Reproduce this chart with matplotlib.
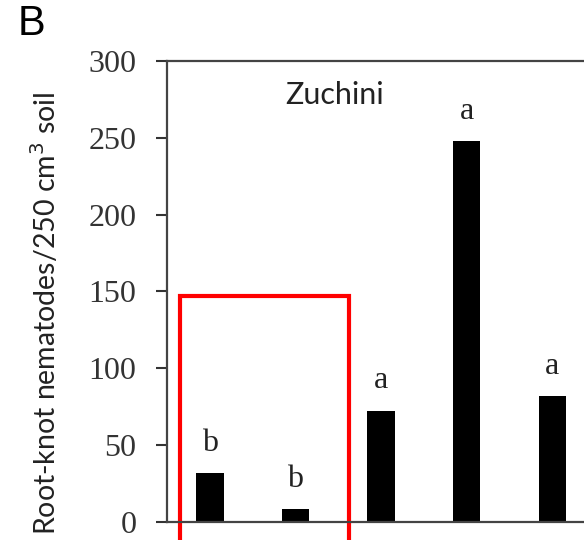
import numpy as np
import matplotlib.pyplot as plt
from matplotlib.patches import Rectangle

# valores (Zuchini)
treatments = ['T1', 'T2', 'T3', 'T4', 'T5']
nematodes = [32, 8.5, 72.5, 248, 82]
letters = ['b', 'b', 'a', 'a', 'a']
yticks = [0, 50, 100, 150, 200, 250, 300]

fig = plt.figure(figsize=(5.84, 5.40), dpi=100)
fig.patch.set_facecolor('#ffffff')
ax = fig.add_axes([0.286, 0.0333, 0.714, 0.854])

x = np.arange(len(treatments))
ax.bar(x, nematodes, width=0.32, color='black')

for xi, v, lt in zip(x, nematodes, letters):
    ax.annotate(lt, (xi, v), xytext=(0, 16), textcoords='offset points',
                ha='center', va='baseline', fontsize=23, family='Liberation Serif',
                color='#222222')

ax.set_xlim(-0.5, 4.37)
ax.set_ylim(0, 300)
ax.set_yticks(yticks)
ax.set_yticklabels([str(t) for t in yticks], family='Liberation Serif',
                   fontsize=23, color='#333333')
ax.set_xticks([])
ax.tick_params(axis='y', direction='out', length=8, width=1.5, pad=14, color='#333333')

ax.spines['right'].set_visible(False)
for s in ['left', 'bottom', 'top']:
    ax.spines[s].set_color('#444444')
    ax.spines[s].set_linewidth(1.6)

ax.set_ylabel('Root-knot nematodes/250 cm$^3$ soil', family='Lato', fontsize=20.5,
              color='#222222')
ax.yaxis.set_label_coords(-0.255, 0.453)

ax.text(0.88, 272, 'Zuchini', family='Lato', fontsize=22, color='#222222',
        ha='left', va='baseline')

fig.text(0.03, 0.935, 'B', fontsize=30, family='Liberation Sans', color='black')

# caixa vermelha de destaque
box = Rectangle((-0.35, -40), 1.98, 187, fill=False, edgecolor='#ff0000',
                linewidth=3, clip_on=False)
ax.add_patch(box)

fig.savefig('out.png', dpi=100)
